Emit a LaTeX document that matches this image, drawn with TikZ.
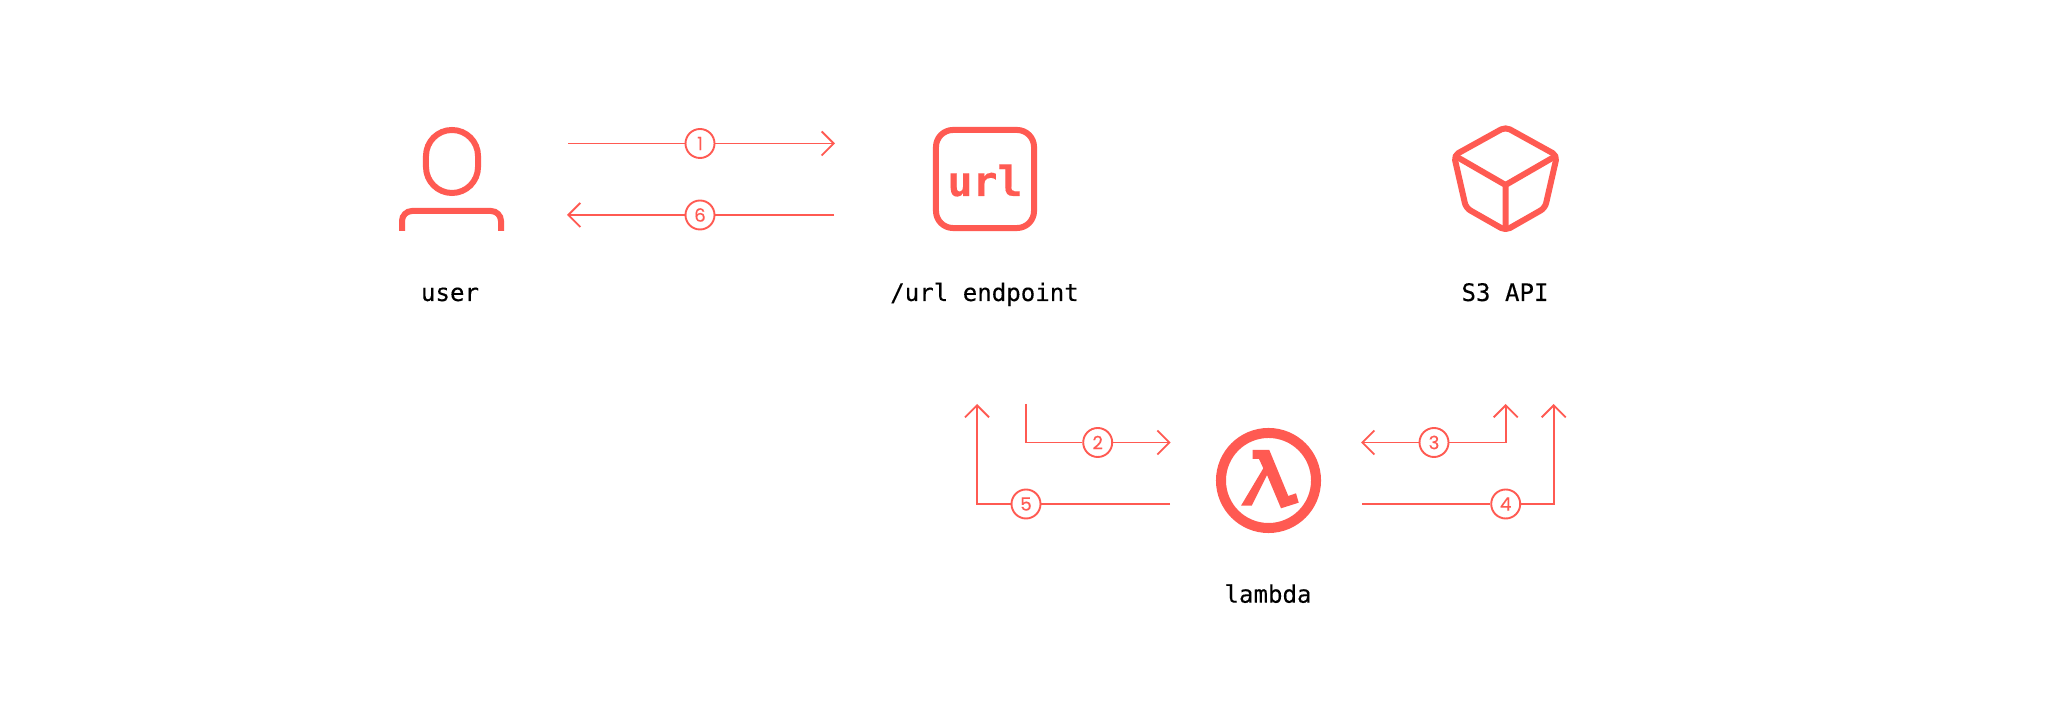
\documentclass[tikz,border=0pt]{standalone}
\usepackage{fontspec}
\setmonofont[FakeBold=0.2]{DejaVu Sans Mono}
\setsansfont[FakeBold=0.25]{Poppins}
\usepackage{xcolor}
\usepackage{tikz}
\usetikzlibrary{arrows.meta}
\definecolor{coral}{HTML}{FF5A52}
\tikzset{
    flow/.style={draw=coral, line width=0.019cm},
    head/.style={-{Straight Barb[length=0.12cm, width=0.24cm, line width=0.019cm]}},
    stepmark/.style={circle, draw=coral, fill=white, line width=0.019cm, minimum size=0.29cm, inner sep=0pt, text=coral, font=\sffamily\fontsize{5.2}{5}\selectfont},
    icon/.style={draw=coral, line width=0.06cm},
    caption/.style={anchor=base, inner sep=0pt, text=black, font=\ttfamily\fontsize{6.85}{7}\selectfont},
}

\begin{document}
\begin{tikzpicture}[x=0.01cm, y=-0.01cm]
        \useasboundingbox (0,0) rectangle (2048,701);

        \node[icon, minimum width=0.52cm, minimum height=0.63cm, rounded corners=0.26cm] (userhead) at (452,161.5) {};
        \coordinate (bodyl) at (402,231);
        \coordinate (bodyr) at (501,231);
        \draw[icon, rounded corners=0.1cm] (bodyl) -- (402,211) -- (501,211) -- (bodyr);
        \node[caption] (userlabel) at (450,301) {user};

        \node[icon, minimum size=0.98cm, rounded corners=0.17cm, inner sep=0pt] (urlbox) at (985,179) {};
        \node[anchor=base, inner sep=0pt, text=coral, font=\ttfamily\bfseries\fontsize{11.8}{12}\selectfont] (urltext) at (985,196) {url};
        \node[caption] (urllabel) at (984.5,301) {/url endpoint};

        \coordinate (cubetop) at (1505.5,127);
        \coordinate (cubemid) at (1505.5,185);
        \coordinate (cubebot) at (1505.5,230.5);
        \coordinate (cubeleft) at (1454,155.5);
        \coordinate (cuberight) at (1557,155.5);
        \draw[icon, rounded corners=0.05cm, line join=round] (cubetop) -- (cuberight) -- (1545,208) -- (cubebot) -- (1466,208) -- (cubeleft) -- cycle;
        \draw[icon, line join=round] (1457,157) -- (cubemid) -- (1554,157) (cubemid) -- (cubebot);
        \node[caption] (s3label) at (1505,301) {S3 API};

        \node[draw=coral, line width=0.1cm, circle, minimum size=0.95cm, inner sep=0pt] (lambdaring) at (1268.5,480.5) {};
        \fill[coral] (1252.7,450) -- (1269.3,450) -- (1288.3,496) -- (1296,493.3) -- (1298.7,502.7) -- (1281,508.3) -- (1267,475) -- (1251.7,505.7) -- (1241,505.7) -- (1263.3,468.3) -- (1259,459) -- (1252.7,459) -- cycle;
        \node[caption] (lambdalabel) at (1268,602.7) {lambda};

        \node[stepmark] (n1) at (700,143.5) {1};
        \node[stepmark] (n2) at (1097.7,442.5) {2};
        \node[stepmark] (n3) at (1434,442.5) {3};
        \node[stepmark] (n4) at (1505.7,504) {4};
        \node[stepmark] (n5) at (1026,504) {5};
        \node[stepmark] (n6) at (700,215) {6};

        \coordinate (a1) at (568,143.5);
        \coordinate (b1) at (835,143.5);
        \coordinate (a6) at (834,215);
        \coordinate (b6) at (567,215);
        \coordinate (a2) at (1026,404);
        \coordinate (b2) at (1170.7,442.5);
        \coordinate (a3) at (1505.7,404);
        \coordinate (b3) at (1361,442.5);
        \coordinate (a4) at (1362,504);
        \coordinate (b4) at (1553.7,404);
        \coordinate (a5) at (1170,504);
        \coordinate (b5) at (977,404);

        \draw[flow] (a1) -- (n1);
        \draw[flow, head] (n1) -- (b1);
        \draw[flow] (a6) -- (n6);
        \draw[flow, head] (n6) -- (b6);
        \draw[flow] (a2) |- (n2);
        \draw[flow, head] (n2) -- (b2);
        \draw[flow, head] (n3) -| (a3);
        \draw[flow, head] (n3) -- (b3);
        \draw[flow] (a4) -- (n4);
        \draw[flow, head] (n4) -| (b4);
        \draw[flow] (a5) -- (n5);
        \draw[flow, head] (n5) -| (b5);
    \end{tikzpicture}
\end{document}
